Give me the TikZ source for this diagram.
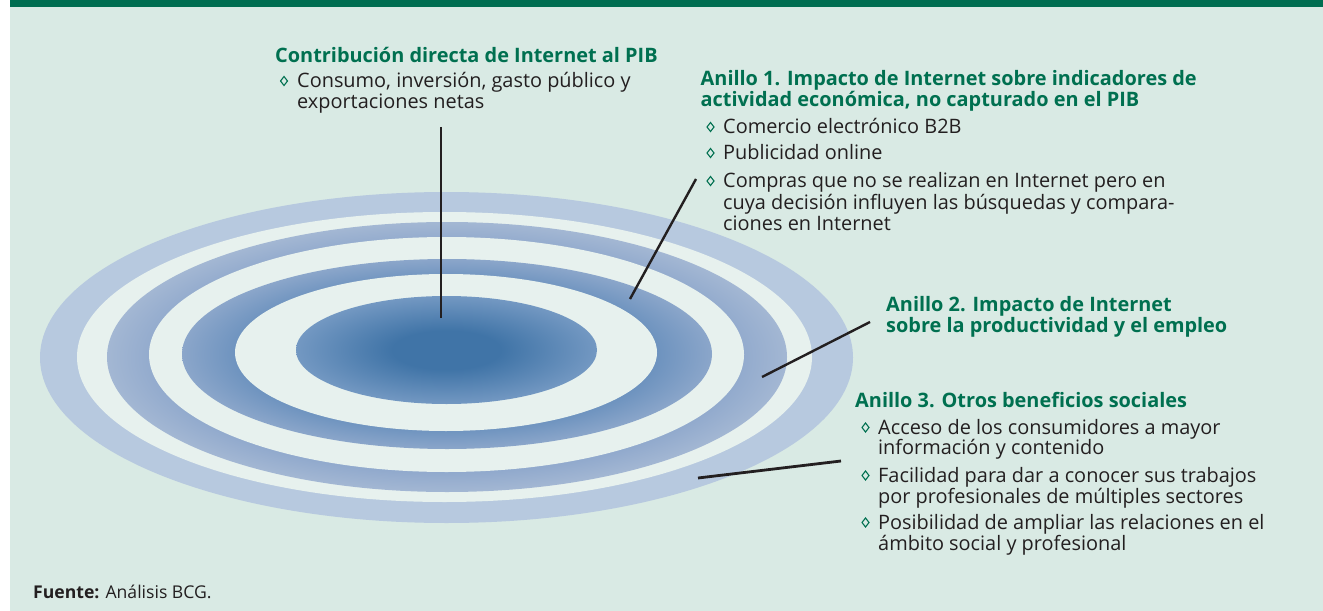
\documentclass[tikz,border=0pt]{standalone}
\usepackage{fontspec}
\setmainfont{Open Sans}
\definecolor{bg}{RGB}{217,234,228}
\definecolor{topband}{RGB}{0,110,81}
\definecolor{ttl}{RGB}{0,112,80}
\definecolor{txt}{RGB}{35,31,32}
\definecolor{ringO}{RGB}{183,201,223}
\definecolor{ringW}{RGB}{231,241,238}
\definecolor{midO}{RGB}{163,183,211}
\definecolor{midI}{RGB}{143,168,204}
\definecolor{darkO}{RGB}{139,166,202}
\definecolor{darkI}{RGB}{105,144,189}
\definecolor{cenI}{RGB}{64,116,167}
\definecolor{cenO}{RGB}{115,152,194}
\pgfdeclareradialshading{midshade}{\pgfpoint{0bp}{0bp}}{color(0bp)=(midI); color(21bp)=(midI); color(25bp)=(midO); color(50bp)=(midO)}
\pgfdeclareradialshading{darkshade}{\pgfpoint{0bp}{0bp}}{color(0bp)=(darkI); color(19bp)=(darkI); color(25bp)=(darkO); color(50bp)=(darkO)}
\pgfdeclareradialshading{censhade}{\pgfpoint{0bp}{0bp}}{color(0bp)=(cenI); color(9bp)=(cenI); color(25bp)=(cenO); color(50bp)=(cenO)}
\tikzset{
  ttlstyle/.style={anchor=base west, inner sep=0pt, text=ttl, font=\fontsize{19.9bp}{21bp}\selectfont\bfseries},
  bodystyle/.style={anchor=base west, inner sep=0pt, text=txt, font=\fontsize{19.9bp}{21bp}\selectfont},
  bulstyle/.style={draw=ttl, line width=1.1bp},
  conn/.style={draw=txt, line width=2.4bp}
}
\begin{document}
\begin{tikzpicture}[x=1bp,y=-1bp]
\useasboundingbox (0,0) rectangle (1323,611);
\fill[white] (0,0) rectangle (1323,611);
\fill[bg] (10,0) rectangle (1323,611);
\fill[topband] (10,0) rectangle (1323,7);
% rings
\fill[ringO] (446.5,357.5) ellipse [x radius=406.5, y radius=165.5];
\fill[ringW] (444.5,357) ellipse [x radius=367.5, y radius=145];
\shade[shading=midshade] (447,357) ellipse [x radius=340, y radius=135];
\fill[ringW] (446.5,354.5) ellipse [x radius=297.5, y radius=117.5];
\shade[shading=darkshade] (447,354) ellipse [x radius=265, y radius=95];
\fill[ringW] (446,352.5) ellipse [x radius=211, y radius=78.5];
\shade[shading=censhade] (446.5,350) ellipse [x radius=150.5, y radius=54];
% block A
\node[ttlstyle] (tA) at (275,63) {Contribución directa de Internet al PIB};
\node[bodystyle] (bA1a) at (297,88) {Consumo, inversión, gasto público y};
\node[bodystyle] (bA1b) at (297,109) {exportaciones netas};
\draw[bulstyle] (284,81) +(0,-4.5) -- +(3.5,0) -- +(0,4.5) -- +(-3.5,0) -- cycle;
% block B
\node[ttlstyle] (tBa) at (700.5,86) {Anillo 1. Impacto de Internet sobre indicadores de};
\node[ttlstyle] (tBb) at (700.5,107) {actividad económica, no capturado en el PIB};
\node[bodystyle] (bB1) at (723,134) {Comercio electrónico B2B};
\node[bodystyle] (bB2) at (723,160) {Publicidad online};
\node[bodystyle] (bB3a) at (723,188) {Compras que no se realizan en Internet pero en};
\node[bodystyle] (bB3b) at (723,209) {cuya decisión influyen las búsquedas y compara-};
\node[bodystyle] (bB3c) at (723,230) {ciones en Internet};
\draw[bulstyle] (710.5,127) +(0,-4.5) -- +(3.5,0) -- +(0,4.5) -- +(-3.5,0) -- cycle;
\draw[bulstyle] (710.5,153) +(0,-4.5) -- +(3.5,0) -- +(0,4.5) -- +(-3.5,0) -- cycle;
\draw[bulstyle] (710.5,181) +(0,-4.5) -- +(3.5,0) -- +(0,4.5) -- +(-3.5,0) -- cycle;
% block C
\node[ttlstyle] (tCa) at (886,311) {Anillo 2. Impacto de Internet};
\node[ttlstyle] (tCb) at (886,332) {sobre la productividad y el empleo};
% block D
\node[ttlstyle] (tD) at (855,407) {Anillo 3. Otros beneficios sociales};
\node[bodystyle] (bD1a) at (878,434) {Acceso de los consumidores a mayor};
\node[bodystyle] (bD1b) at (878,454) {información y contenido};
\node[bodystyle] (bD2a) at (878,482) {Facilidad para dar a conocer sus trabajos};
\node[bodystyle] (bD2b) at (878,503) {por profesionales de múltiples sectores};
\node[bodystyle] (bD3a) at (878,529) {Posibilidad de ampliar las relaciones en el};
\node[bodystyle] (bD3b) at (878,550) {ámbito social y profesional};
\draw[bulstyle] (865.5,427.5) +(0,-4.5) -- +(3.5,0) -- +(0,4.5) -- +(-3.5,0) -- cycle;
\draw[bulstyle] (865.5,475.5) +(0,-4.5) -- +(3.5,0) -- +(0,4.5) -- +(-3.5,0) -- cycle;
\draw[bulstyle] (865.5,522.5) +(0,-4.5) -- +(3.5,0) -- +(0,4.5) -- +(-3.5,0) -- cycle;
% source
\node[bodystyle, font=\fontsize{17.6bp}{18bp}\selectfont] (src) at (33,598) {\textbf{Fuente:} Análisis BCG.};
% connectors
\coordinate (a0) at (441,127); \coordinate (a1) at (441,318);
\coordinate (b0) at (696,179); \coordinate (b1) at (630,299);
\coordinate (c0) at (870,322); \coordinate (c1) at (762,377);
\coordinate (d0) at (841,461); \coordinate (d1) at (698,478);
\draw[conn, line width=2.2bp] (a0) -- (a1);
\draw[conn] (b0) -- (b1);
\draw[conn] (c0) -- (c1);
\draw[conn, line width=2.8bp] (d0) -- (d1);
\end{tikzpicture}
\end{document}
